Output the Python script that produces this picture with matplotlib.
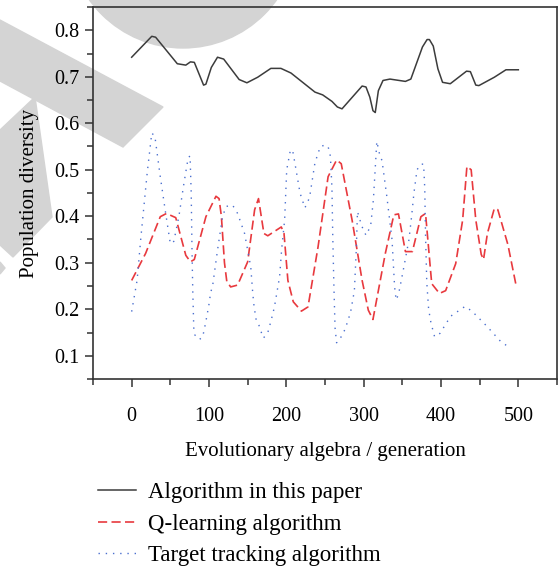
import matplotlib
matplotlib.use("Agg")
import matplotlib.pyplot as plt
from matplotlib.patches import Polygon, Ellipse
from matplotlib.ticker import MultipleLocator

# generation, diversity pairs for each method
gen_ours = [0, 26, 31, 59, 70, 76, 81, 93, 96, 103, 111, 119, 139, 149, 163, 180, 193,
            206, 237, 247, 259, 266, 272, 298, 303, 308, 312, 315, 319, 325, 334, 354,
            361, 376, 382, 385, 390, 396, 402, 412, 433, 438, 445, 449, 469, 484, 500]
div_ours = [0.742, 0.787, 0.785, 0.728, 0.725, 0.732, 0.731, 0.682, 0.684, 0.720, 0.742,
            0.738, 0.694, 0.687, 0.699, 0.718, 0.718, 0.708, 0.667, 0.661, 0.647, 0.635,
            0.631, 0.680, 0.678, 0.656, 0.627, 0.623, 0.670, 0.692, 0.695, 0.690, 0.695,
            0.764, 0.780, 0.780, 0.766, 0.717, 0.688, 0.685, 0.712, 0.711, 0.682, 0.681,
            0.699, 0.715, 0.715]

gen_q = [0, 18, 37, 45, 57, 70, 76, 81, 96, 109, 113, 116, 120, 123, 128, 137, 150, 159,
         164, 171, 176, 193.5, 197, 202, 209, 219.5, 228, 241, 254, 265, 271, 285, 298,
         306, 312, 328, 339, 345, 354, 363, 374, 380, 388, 398, 406, 419, 428, 433.5,
         439, 445, 452, 455, 460, 469, 473.5, 486.5, 497]
div_q = [0.262, 0.320, 0.399, 0.406, 0.397, 0.316, 0.302, 0.307, 0.399, 0.443, 0.438,
         0.400, 0.300, 0.260, 0.248, 0.252, 0.302, 0.414, 0.438, 0.363, 0.358, 0.377,
         0.363, 0.262, 0.216, 0.196, 0.205, 0.334, 0.485, 0.521, 0.513, 0.392, 0.262,
         0.198, 0.178, 0.320, 0.403, 0.405, 0.324, 0.324, 0.399, 0.406, 0.255, 0.234,
         0.240, 0.298, 0.392, 0.507, 0.500, 0.392, 0.318, 0.307, 0.363, 0.417, 0.414,
         0.339, 0.252]

gen_tt = [0, 7, 12, 20, 26, 30, 37, 44, 50, 54.5, 61, 67.6, 73, 75.5, 77, 78, 79, 80.3,
          81.6, 87.5, 91.8, 93.5, 95.3, 98.3, 100, 102.2, 104.5, 111, 117.5, 122, 130.5,
          137, 146, 154, 156.5, 158.2, 160.8, 164.7, 167.3, 170.3, 175.9, 180.2, 184.5,
          187.5, 191.3, 194, 197.8, 200.5, 205, 208, 211, 217.7, 224, 230, 237, 244, 250,
          254, 257, 259, 260, 261.5, 263, 265, 269, 276, 283, 288, 290.5, 292, 297.5,
          303, 309, 312.6, 317, 321, 323.7, 330, 336.7, 340, 342, 345, 347, 352, 358.5,
          362, 365, 369, 374, 377.5, 379, 380, 381.6, 384, 387, 391.7, 398.6, 412.5,
          431, 440, 459, 477, 489]
div_tt = [0.195, 0.262, 0.356, 0.492, 0.579, 0.572, 0.485, 0.406, 0.341, 0.346, 0.399,
          0.471, 0.525, 0.530, 0.450, 0.330, 0.240, 0.160, 0.145, 0.135, 0.140, 0.154,
          0.168, 0.195, 0.211, 0.237, 0.248, 0.327, 0.399, 0.421, 0.424, 0.406, 0.363,
          0.291, 0.236, 0.207, 0.179, 0.165, 0.152, 0.138, 0.149, 0.175, 0.204, 0.233,
          0.270, 0.330, 0.392, 0.500, 0.540, 0.543, 0.515, 0.450, 0.418, 0.440, 0.515,
          0.550, 0.553, 0.550, 0.529, 0.460, 0.360, 0.250, 0.160, 0.128, 0.135, 0.157,
          0.193, 0.240, 0.330, 0.410, 0.379, 0.359, 0.379, 0.436, 0.561, 0.530, 0.520,
          0.442, 0.349, 0.248, 0.220, 0.232, 0.248, 0.291, 0.349, 0.400, 0.450, 0.500,
          0.512, 0.512, 0.460, 0.360, 0.258, 0.200, 0.171, 0.141, 0.148, 0.185, 0.206,
          0.196, 0.164, 0.131, 0.117]

labels = ["Algorithm in this paper", "Q-learning algorithm", "Target tracking algorithm"]

W, H = 560, 571
fig = plt.figure(figsize=(W / 100, H / 100), dpi=100)
plt.rcParams["font.family"] = ["Liberation Serif", "DejaVu Serif"]


def px(pts):
    return [(x / W, 1 - y / H) for x, y in pts]


# grey logo shapes in the background, kept under the axes
shade = "#d4d4d4"
bg = dict(color=shade, transform=fig.transFigure, zorder=-10)
fig.patches.append(Ellipse((183 / W, 1 + 67 / H), 230 / W, 230 / H, **bg))
fig.patches.append(Polygon(px([(0, 20), (163, 107), (123, 147), (0, 81)]), **bg))
fig.patches.append(Polygon(px([(0, 130), (35, 97), (52, 217), (13, 257), (0, 245)]), **bg))
fig.patches.append(Polygon(px([(0, 262), (5, 268), (0, 274)]), **bg))

ax = fig.add_axes([93 / W, 1 - 379 / H, 464 / W, 372 / H])
ax.set_facecolor("none")

l1, = ax.plot(gen_ours, div_ours, color="#3c3c3c", lw=1.1)
l2, = ax.plot(gen_q, div_q, color="#e8393e", lw=1.2, ls=(0, (5.5, 2.6)))
l3, = ax.plot(gen_tt, div_tt, color="#4a6fcf", lw=1.0, ls=(0, (1, 4.2)))

ax.set_xlim(-50, 550)
ax.set_ylim(0.05, 0.85)
ax.xaxis.set_major_locator(MultipleLocator(100))
ax.xaxis.set_minor_locator(MultipleLocator(50))
ax.yaxis.set_major_locator(MultipleLocator(0.1))
ax.yaxis.set_minor_locator(MultipleLocator(0.05))
ax.tick_params(which="major", length=6, width=1.1, color="#333333", labelsize=14.5, pad=4)
ax.tick_params(which="minor", length=4, width=1.1, color="#333333")
ax.tick_params(axis="x", which="major", pad=14)
for s in ax.spines.values():
    s.set_color("#333333")
    s.set_linewidth(1.2)

ax.set_xlabel("Evolutionary algebra / generation", fontsize=15, labelpad=12)
ax.set_ylabel("Population diversity", fontsize=15, labelpad=11)

fig.legend([l1, l2, l3], labels, loc="upper left", bbox_to_anchor=(80 / W, 1 - 464 / H),
           frameon=False, fontsize=16.5, handlelength=1.65, labelspacing=0.45,
           handletextpad=0.5, borderpad=0.3)

fig.savefig("out.png", dpi=100)
